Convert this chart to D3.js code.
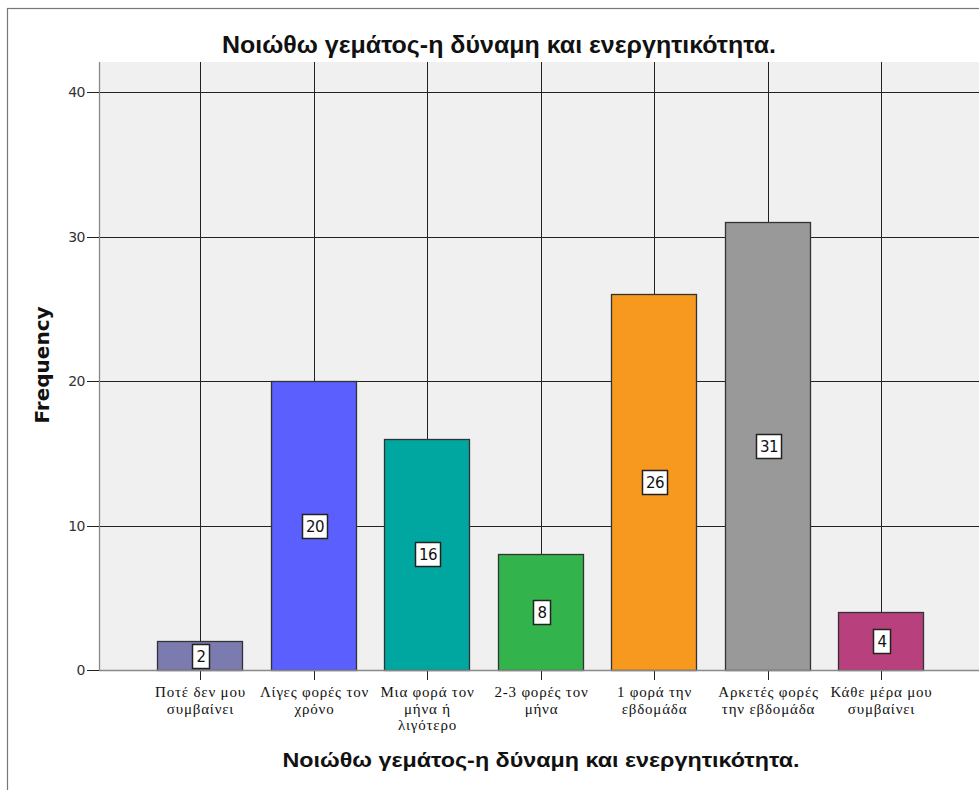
<!DOCTYPE html>
<html>
<head>
<meta charset="utf-8">
<script src="https://cdn.jsdelivr.net/npm/d3@7"></script>
<style>
  body { margin: 0; background: #fff; }
  svg { display: block; }
</style>
</head>
<body>
<div id="chart"></div>
<script>
// chart data
var categories = ["c1", "c2", "c3", "c4", "c5", "c6", "c7"];
var tickLabels = [
  ["Ποτέ δεν μου", "συμβαίνει"],
  ["Λίγες φορές τον", "χρόνο"],
  ["Μια φορά τον", "μήνα ή", "λιγότερο"],
  ["2-3 φορές τον", "μήνα"],
  ["1 φορά την", "εβδομάδα"],
  ["Αρκετές φορές", "την εβδομάδα"],
  ["Κάθε μέρα μου", "συμβαίνει"]
];
var frequencies = [2, 20, 16, 8, 26, 31, 4];
var barColors = ["#7b7bb0", "#5b5ffd", "#00a6a0", "#32b34b", "#f7991f", "#999999", "#b8407c"];
var yTicks = [0, 10, 20, 30, 40];
var title = "Νοιώθω γεμάτος-η δύναμη και ενεργητικότητα.";

var W = 979, H = 790;
var plot = { left: 99, top: 62, right: 979, bottom: 670 };

var svg = d3.select("#chart").append("svg")
  .attr("width", W)
  .attr("height", H);

// outer frame
svg.append("rect")
  .attr("x", 7.5).attr("y", 8.5)
  .attr("width", 990).attr("height", 800)
  .attr("fill", "#fff")
  .attr("stroke", "#777")
  .attr("stroke-width", 1.2);

var x = d3.scaleBand()
  .domain(categories)
  .range([143.25, 937.75])
  .paddingInner(0.25)
  .paddingOuter(0.125);

var y = d3.scaleLinear()
  .domain([0, 40])
  .range([plot.bottom, 92]);

// plot background
svg.append("rect")
  .attr("x", plot.left).attr("y", plot.top)
  .attr("width", plot.right - plot.left).attr("height", plot.bottom - plot.top)
  .attr("fill", "#f0f0f0");

// horizontal gridlines
svg.selectAll(".hgrid")
  .data(yTicks.filter(function (d) { return d > 0; }))
  .enter().append("line")
  .attr("x1", plot.left).attr("x2", plot.right)
  .attr("y1", function (d) { return Math.round(y(d)) + 0.5; })
  .attr("y2", function (d) { return Math.round(y(d)) + 0.5; })
  .attr("stroke", "#222").attr("stroke-width", 1);

// vertical gridlines at category centres
var cx = function (d) { return Math.round(x(d) + x.bandwidth() / 2) + 0.5; };
svg.selectAll(".vgrid")
  .data(categories)
  .enter().append("line")
  .attr("x1", cx).attr("x2", cx)
  .attr("y1", plot.top).attr("y2", plot.bottom + 10)
  .attr("stroke", "#222").attr("stroke-width", 1);

// bars
svg.selectAll(".bar")
  .data(frequencies)
  .enter().append("rect")
  .attr("x", function (d, i) { return Math.round(x(categories[i])) + 0.5; })
  .attr("y", function (d) { return Math.round(y(d)) + 0.5; })
  .attr("width", Math.round(x.bandwidth()))
  .attr("height", function (d) { return Math.round(y(0)) - Math.round(y(d)); })
  .attr("fill", function (d, i) { return barColors[i]; })
  .attr("stroke", "#333").attr("stroke-width", 1.3);

// axes lines
svg.append("line")
  .attr("x1", plot.left + 0.5).attr("x2", plot.left + 0.5)
  .attr("y1", plot.top).attr("y2", plot.bottom)
  .attr("stroke", "#888").attr("stroke-width", 1.3);
svg.append("line")
  .attr("x1", plot.left).attr("x2", plot.right)
  .attr("y1", plot.bottom + 0.5).attr("y2", plot.bottom + 0.5)
  .attr("stroke", "#888").attr("stroke-width", 1.3);

// y axis ticks + labels
var yAxis = svg.append("g");
yAxis.selectAll("line")
  .data(yTicks)
  .enter().append("line")
  .attr("x1", 87).attr("x2", plot.left)
  .attr("y1", function (d) { return Math.round(y(d)) + 0.5; })
  .attr("y2", function (d) { return Math.round(y(d)) + 0.5; })
  .attr("stroke", "#222");
yAxis.selectAll("text")
  .data(yTicks)
  .enter().append("text")
  .attr("x", 85)
  .attr("y", function (d) { return y(d) + 5; })
  .attr("text-anchor", "end")
  .attr("font-family", "DejaVu Sans, sans-serif")
  .attr("font-size", 14)
  .attr("letter-spacing", -0.5)
  .attr("fill", "#333")
  .text(function (d) { return d; });

// value labels
var labels = svg.selectAll(".vlab")
  .data(frequencies)
  .enter().append("g")
  .attr("transform", function (d, i) {
    return "translate(" + cx(categories[i]) + "," + Math.round(y(d / 2)) + ")";
  });
labels.append("rect")
  .attr("x", function (d) { return d >= 10 ? -12 : -8; })
  .attr("y", -11.5)
  .attr("width", function (d) { return d >= 10 ? 25 : 17; })
  .attr("height", 24)
  .attr("fill", "#fff")
  .attr("stroke", "#222").attr("stroke-width", 1.5);
labels.append("text")
  .attr("y", 6)
  .attr("x", 0.5)
  .attr("text-anchor", "middle")
  .attr("font-family", "DejaVu Sans, sans-serif")
  .attr("font-size", 15)
  .attr("letter-spacing", -0.5)
  .attr("fill", "#111")
  .text(function (d) { return d; });

// x tick labels
var xl = svg.selectAll(".xlab")
  .data(tickLabels)
  .enter().append("text")
  .attr("text-anchor", "middle")
  .attr("font-family", "Liberation Serif, serif")
  .attr("font-size", 15)
  .attr("letter-spacing", 0.8)
  .attr("fill", "#111");
xl.each(function (lines, i) {
  d3.select(this).selectAll("tspan")
    .data(lines)
    .enter().append("tspan")
    .attr("x", cx(categories[i]))
    .attr("y", function (d, j) { return 697 + j * 16.5; })
    .text(function (d) { return d; });
});

// titles
svg.append("text")
  .attr("x", 499).attr("y", 53)
  .attr("text-anchor", "middle")
  .attr("font-family", "Liberation Sans, Arial, sans-serif")
  .attr("font-weight", "bold")
  .attr("font-size", 23)
  .attr("textLength", 554)
  .attr("lengthAdjust", "spacingAndGlyphs")
  .attr("fill", "#111")
  .text(title);

svg.append("text")
  .attr("x", 541).attr("y", 767)
  .attr("text-anchor", "middle")
  .attr("font-family", "Liberation Sans, Arial, sans-serif")
  .attr("font-weight", "bold")
  .attr("font-size", 20)
  .attr("textLength", 517)
  .attr("lengthAdjust", "spacingAndGlyphs")
  .attr("fill", "#111")
  .text(title);

svg.append("text")
  .attr("transform", "translate(49,365) rotate(-90)")
  .attr("text-anchor", "middle")
  .attr("font-family", "DejaVu Sans, sans-serif")
  .attr("font-weight", "bold")
  .attr("font-size", 20)
  .attr("fill", "#111")
  .text("Frequency");
</script>
</body>
</html>
